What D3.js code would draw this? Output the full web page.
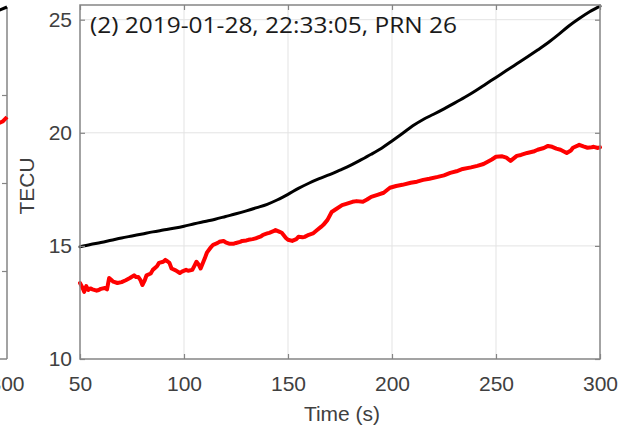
<!DOCTYPE html>
<html>
<head>
<meta charset="utf-8">
<script src="https://cdn.jsdelivr.net/npm/d3@7"></script>
<style>
  body { margin: 0; background: #fff; }
  svg { display: block; }
  .tick text { font-family: "Liberation Sans", Arial, sans-serif; font-size: 21px; fill: #404040; }
</style>
</head>
<body>
<svg id="chart" width="627" height="431"></svg>
<script>
// 시간축 (s)
const xTicks = [50, 100, 150, 200, 250, 300];
const yTicks = [10, 15, 20, 25];

// 검은 선 (TEC)
const blackT = [50, 55, 60, 65, 70, 75, 80, 85, 90, 95, 100, 105, 110, 115, 120, 125, 130, 135, 140, 145,
  150, 155, 160, 165, 170, 175, 180, 185, 190, 195, 200, 205, 210, 215, 220, 225, 230, 235, 240, 245,
  250, 255, 260, 265, 270, 275, 280, 285, 290, 295, 300];
const blackV = [14.96, 15.06, 15.15, 15.25, 15.35, 15.44, 15.53, 15.62, 15.70, 15.78, 15.87, 15.98, 16.08, 16.18, 16.30, 16.42, 16.55, 16.69, 16.84, 17.04,
  17.28, 17.54, 17.77, 17.97, 18.15, 18.35, 18.56, 18.80, 19.05, 19.32, 19.64, 19.97, 20.31, 20.59, 20.82, 21.06, 21.31, 21.57, 21.85, 22.15,
  22.45, 22.75, 23.05, 23.35, 23.66, 23.98, 24.34, 24.72, 25.05, 25.35, 25.60];

// 빨간 선 (TEC)
const redT = [50, 51, 52, 53, 54, 55, 56, 58, 59, 60, 62, 63, 64, 65, 66, 68, 70, 72, 74, 76,
  77, 78, 79, 80, 81, 82, 84, 85, 87, 88, 90, 91, 92, 93, 94, 96, 98, 99, 101, 102,
  104, 105, 106, 107, 108, 110, 111, 113, 114, 116, 117, 119, 120, 122, 124, 125, 127, 128, 130, 131,
  133, 135, 137, 138, 140, 141, 143, 144, 146, 147, 149, 150, 152, 154, 155, 157, 158, 160, 162, 164,
  166, 167, 169, 171, 173, 176, 178, 181, 183, 186, 188, 190, 193, 196, 199, 202, 205, 209, 212, 215,
  218, 222, 225, 228, 231, 234, 238, 241, 244, 246, 248, 250, 253, 255, 257, 260, 262, 265, 268, 270,
  273, 275, 277, 279, 281, 284, 286, 287, 289, 290, 292, 294, 296, 297, 299, 300];
const redV = [13.36, 13.19, 12.97, 13.22, 13.05, 13.12, 13.08, 13.02, 13.05, 13.10, 13.14, 13.08, 13.58, 13.50, 13.42, 13.36, 13.40, 13.48, 13.58, 13.70,
  13.62, 13.63, 13.50, 13.27, 13.45, 13.70, 13.78, 13.94, 14.10, 14.25, 14.30, 14.38, 14.32, 14.25, 14.00, 13.92, 13.80, 13.86, 13.94, 13.90,
  13.94, 14.12, 14.30, 14.18, 14.00, 14.45, 14.70, 14.95, 15.05, 15.12, 15.18, 15.22, 15.16, 15.09, 15.10, 15.13, 15.18, 15.22, 15.24, 15.27,
  15.30, 15.35, 15.42, 15.49, 15.55, 15.58, 15.65, 15.70, 15.62, 15.58, 15.35, 15.27, 15.22, 15.30, 15.40, 15.38, 15.40, 15.49, 15.55, 15.70,
  15.85, 15.93, 16.15, 16.50, 16.62, 16.80, 16.86, 16.95, 16.98, 16.95, 17.05, 17.17, 17.26, 17.35, 17.57, 17.65, 17.70, 17.79, 17.84, 17.92,
  17.97, 18.05, 18.12, 18.23, 18.30, 18.40, 18.47, 18.54, 18.62, 18.72, 18.82, 18.94, 18.96, 18.90, 18.76, 18.98, 19.02, 19.11, 19.17, 19.25,
  19.33, 19.42, 19.38, 19.30, 19.25, 19.11, 19.22, 19.34, 19.42, 19.47, 19.40, 19.34, 19.36, 19.38, 19.33, 19.36];

// 왼쪽 패널 (잘린 부분)
const leftYTicks = [1, 2, 3];
const leftBlackT = [296, 300];
const leftBlackV = [3.96, 4.0];
const leftRedT = [296, 298, 300];
const leftRedV = [2.68, 2.70, 2.75];

const title = "(2) 2019-01-28, 22:33:05, PRN 26";

const svg = d3.select("#chart");
const axisColor = "#858585";
const gridColor = "#e3e3e3";

const L = 80, R = 600, T = 5, B = 359;

const x = d3.scaleLinear().domain([50, 300]).range([L, R]);
const y = d3.scaleLinear().domain([10, 25.65]).range([B, T]);

// 그리드
const grid = svg.append("g");
grid.selectAll("line.gx").data(xTicks.slice(1, -1)).enter().append("line")
  .attr("x1", d => x(d)).attr("x2", d => x(d)).attr("y1", T).attr("y2", B)
  .attr("stroke", gridColor).attr("stroke-width", 1);
grid.selectAll("line.gy").data(yTicks.slice(1)).enter().append("line")
  .attr("x1", L).attr("x2", R).attr("y1", d => y(d)).attr("y2", d => y(d))
  .attr("stroke", gridColor).attr("stroke-width", 1);

// 선
const line = d3.line().x(d => x(d[0])).y(d => y(d[1]));
svg.append("path")
  .datum(blackT.map((t, i) => [t, blackV[i]]))
  .attr("d", line.curve(d3.curveMonotoneX)).attr("fill", "none").attr("stroke", "#000")
  .attr("stroke-width", 3).attr("stroke-linejoin", "round").attr("stroke-linecap", "round");
svg.append("path")
  .datum(redT.map((t, i) => [t, redV[i]]))
  .attr("d", line.curve(d3.curveLinear)).attr("fill", "none").attr("stroke", "#ff0000")
  .attr("stroke-width", 4).attr("stroke-linejoin", "round").attr("stroke-linecap", "round");

// 축 (MATLAB 스타일: 안쪽 눈금, 박스)
const tickLen = 5;
svg.append("g").attr("transform", `translate(0,${B})`)
  .call(d3.axisBottom(x).tickValues(xTicks).tickSizeInner(-tickLen).tickSizeOuter(0).tickPadding(17))
  .call(g => g.select(".domain").remove());
svg.append("g").attr("transform", `translate(0,${T})`)
  .call(d3.axisTop(x).tickValues(xTicks).tickSizeInner(-tickLen).tickSizeOuter(0).tickFormat(""))
  .call(g => g.select(".domain").remove());
svg.append("g").attr("transform", `translate(${L},0)`)
  .call(d3.axisLeft(y).tickValues(yTicks).tickSizeInner(-tickLen).tickSizeOuter(0).tickPadding(8))
  .call(g => g.select(".domain").remove());
svg.append("g").attr("transform", `translate(${R},0)`)
  .call(d3.axisRight(y).tickValues(yTicks).tickSizeInner(-tickLen).tickSizeOuter(0).tickFormat(""))
  .call(g => g.select(".domain").remove());
svg.selectAll(".tick line").attr("stroke", axisColor).attr("stroke-width", 1.2);

svg.append("rect")
  .attr("x", L).attr("y", T).attr("width", R - L).attr("height", B - T)
  .attr("fill", "none").attr("stroke", axisColor).attr("stroke-width", 1.5);

// 축 제목
svg.append("text")
  .attr("x", (L + R) / 2 + 2).attr("y", 421)
  .attr("text-anchor", "middle")
  .attr("font-family", "Liberation Sans, Arial, sans-serif").attr("font-size", 21)
  .attr("fill", "#404040")
  .text("Time (s)");
svg.append("text")
  .attr("transform", `translate(34,${(T + B) / 2 + 4}) rotate(-90)`)
  .attr("text-anchor", "middle")
  .attr("font-family", "Liberation Sans, Arial, sans-serif").attr("font-size", 21)
  .attr("fill", "#404040")
  .text("TECU");

// 패널 제목
svg.append("text")
  .attr("x", 90).attr("y", 33)
  .attr("font-family", "Open Sans, Noto Sans, sans-serif").attr("font-size", 21)
  .attr("fill", "#1a1a1a")
  .attr("textLength", 367).attr("lengthAdjust", "spacingAndGlyphs")
  .text(title);

// 왼쪽 패널 조각
const lx = d3.scaleLinear().domain([50, 300]).range([7 - (R - L), 7]);
const ly = d3.scaleLinear().domain([0, 4]).range([B, 7]);
const left = svg.append("g");
left.append("g").attr("transform", "translate(7,0)")
  .call(d3.axisRight(ly).tickValues(leftYTicks).tickSizeInner(-tickLen).tickSizeOuter(0).tickFormat(""))
  .call(g => g.select(".domain").remove())
  .selectAll("line").attr("stroke", axisColor).attr("stroke-width", 1.2);
left.append("line").attr("x1", 7).attr("x2", 7).attr("y1", ly(4)).attr("y2", B)
  .attr("stroke", axisColor).attr("stroke-width", 1.5);
left.append("line").attr("x1", 0).attr("x2", 7).attr("y1", B).attr("y2", B)
  .attr("stroke", axisColor).attr("stroke-width", 1.5);
const leftLine = d3.line().x(d => lx(d[0])).y(d => ly(d[1]));
left.append("path").datum(leftBlackT.map((t, i) => [t, leftBlackV[i]]))
  .attr("d", leftLine).attr("fill", "none").attr("stroke", "#000").attr("stroke-width", 3);
left.append("path").datum(leftRedT.map((t, i) => [t, leftRedV[i]]))
  .attr("d", leftLine).attr("fill", "none").attr("stroke", "#ff0000").attr("stroke-width", 4);
left.append("text")
  .attr("x", lx(300)).attr("y", B + 17 + 21 * 0.71 + 0.5)
  .attr("text-anchor", "middle")
  .attr("font-family", "Liberation Sans, Arial, sans-serif").attr("font-size", 21)
  .attr("fill", "#404040")
  .text("300");
</script>
</body>
</html>
